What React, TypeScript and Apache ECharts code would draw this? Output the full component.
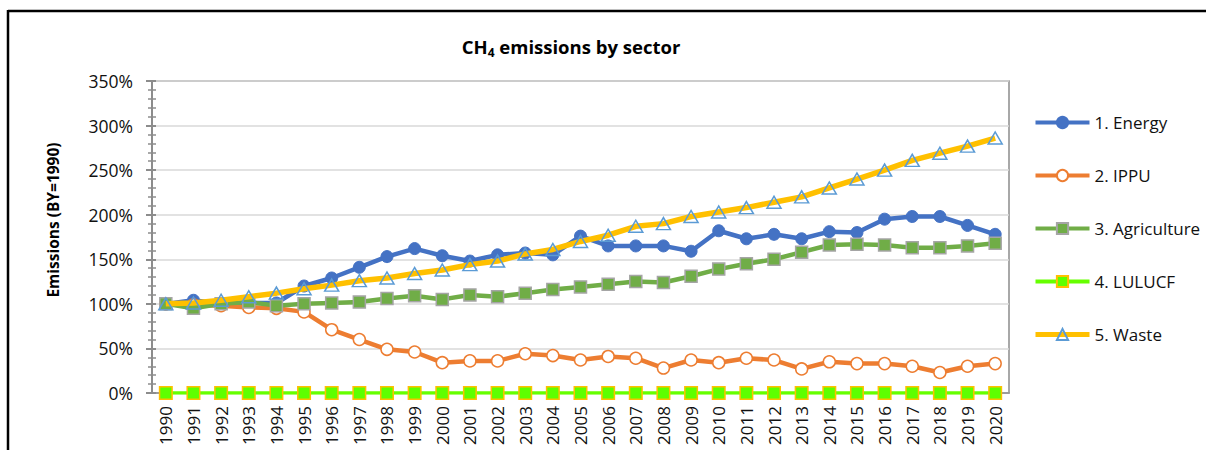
import React, { useEffect, useRef } from "react";
import * as echarts from "echarts";

const years = [
  "1990","1991","1992","1993","1994","1995","1996","1997","1998","1999",
  "2000","2001","2002","2003","2004","2005","2006","2007","2008","2009",
  "2010","2011","2012","2013","2014","2015","2016","2017","2018","2019","2020",
];

const energy = [100,104,100,101,101,120,129,141,153,162,154,148,155,157,155,176,165,165,165,159,182,173,178,173,181,180,195,198,198,188,178];
const ippu = [100,99,98,96,95,91,71,60,49,46,34,36,36,44,42,37,41,39,28,37,34,39,37,27,35,33,33,30,23,30,33];
const agriculture = [100,95,100,102,98,100,101,102,106,109,105,110,108,112,116,119,122,125,124,131,139,145,150,158,166,167,166,163,163,165,168];
const lulucf = [0,0,0,0,0,0,0,0,0,0,0,0,0,0,0,0,0,0,0,0,0,0,0,0,0,0,0,0,0,0,0];
const waste = [100,101,104,108,112,117,121,126,129,134,138,144,148,156,161,170,177,187,190,198,203,208,214,220,230,240,250,261,269,277,286];

const seriesNames = ["1. Energy", "2. IPPU", "3. Agriculture", "4. LULUCF", "5. Waste"];

const FONT = "'Open Sans', 'Liberation Sans', sans-serif";

export default function App() {
  const ref = useRef<HTMLDivElement>(null);

  useEffect(() => {
    if (!ref.current) return;
    const chart = echarts.init(ref.current, undefined, { renderer: "svg" });

    const yCommon = {
      type: "value" as const,
      min: 0,
      max: 350,
      interval: 50,
      position: "left" as const,
    };

    chart.setOption({
      animation: false,
      backgroundColor: "#fff",
      textStyle: { fontFamily: FONT },
      grid: {
        left: 152,
        top: 81,
        right: 197,
        bottom: 57,
        show: true,
        borderColor: "#8c8c8c",
        borderWidth: 1.5,
        backgroundColor: "transparent",
      },
      legend: {
        orient: "vertical",
        left: 1033,
        top: 111,
        padding: 0,
        itemWidth: 54,
        itemHeight: 14,
        itemGap: 30,
        data: [
          { name: seriesNames[0], lineStyle: { width: 4 } },
          { name: seriesNames[1], lineStyle: { width: 4 } },
          { name: seriesNames[2], lineStyle: { width: 4 } },
          { name: seriesNames[3], lineStyle: { width: 4 } },
          { name: seriesNames[4], lineStyle: { width: 5 } },
        ],
        textStyle: { fontFamily: FONT, fontSize: 17, color: "#111", lineHeight: 23 },
      },
      xAxis: {
        type: "category",
        data: years,
        boundaryGap: true,
        axisLine: { show: true, lineStyle: { color: "#8c8c8c", width: 1.5 } },
        axisTick: { show: false },
        axisLabel: {
          rotate: 90,
          margin: 13,
          fontSize: 17,
          fontFamily: FONT,
          color: "#111",
          interval: 0,
        },
        splitLine: { show: false },
      },
      yAxis: [
        {
          ...yCommon,
          axisLine: { show: true, lineStyle: { color: "#8c8c8c", width: 2 } },
          axisTick: { show: true, inside: false, length: 6, lineStyle: { color: "#8c8c8c", width: 2 } },
          minorTick: { show: true, splitNumber: 5, length: 4, lineStyle: { color: "#8c8c8c", width: 1.5 } },
          axisLabel: {
            formatter: "{value}%",
            margin: 19,
            fontSize: 17.5,
            fontFamily: FONT,
            color: "#111",
          },
          splitLine: { show: true, lineStyle: { color: "#d9d9d9", width: 1.5 } },
        },
        {
          ...yCommon,
          axisLine: { show: false },
          axisTick: { show: true, inside: true, length: 4, lineStyle: { color: "#8c8c8c", width: 2 } },
          minorTick: { show: true, splitNumber: 5, length: 4, lineStyle: { color: "#8c8c8c", width: 1.5 } },
          axisLabel: { show: false },
          splitLine: { show: false },
        },
      ],
      series: [
        {
          name: seriesNames[0],
          type: "line",
          data: energy,
          yAxisIndex: 0,
          color: "#4472C4",
          lineStyle: { color: "#4472C4", width: 4.5 },
          symbol: "circle",
          symbolSize: 12,
          itemStyle: { color: "#4472C4", borderColor: "#4472C4", borderWidth: 1 },
          z: 2,
        },
        {
          name: seriesNames[1],
          type: "line",
          data: ippu,
          yAxisIndex: 0,
          color: "#ED7D31",
          lineStyle: { color: "#ED7D31", width: 4.5 },
          symbol: "circle",
          symbolSize: 12,
          itemStyle: { color: "#ffffff", borderColor: "#ED7D31", borderWidth: 1.5 },
          z: 3,
        },
        {
          name: seriesNames[2],
          type: "line",
          data: agriculture,
          yAxisIndex: 0,
          color: "#70AD47",
          lineStyle: { color: "#70AD47", width: 4.5 },
          symbol: "rect",
          symbolSize: 12,
          itemStyle: { color: "#70AD47", borderColor: "#A5A5A5", borderWidth: 1.5 },
          z: 4,
        },
        {
          name: seriesNames[3],
          type: "line",
          data: lulucf,
          yAxisIndex: 0,
          color: "#66FF00",
          lineStyle: { color: "#66FF00", width: 3.5 },
          symbol: "rect",
          symbolSize: 12.5,
          itemStyle: { color: "#5EFF00", borderColor: "#FFC000", borderWidth: 1.5 },
          z: 5,
        },
        {
          name: seriesNames[4],
          type: "line",
          data: waste,
          yAxisIndex: 0,
          color: "#FFC000",
          lineStyle: { color: "#FFC000", width: 5.5 },
          symbol: "triangle",
          symbolSize: [14, 12],
          itemStyle: { color: "transparent", borderColor: "#5B9BD5", borderWidth: 1.5 },
          z: 6,
        },
      ],
      graphic: [
        {
          type: "line",
          shape: { x1: 8, y1: 11, x2: 1206, y2: 11 },
          style: { stroke: "#000", lineWidth: 2.5 },
          silent: true,
        },
        {
          type: "line",
          shape: { x1: 8, y1: 10, x2: 8, y2: 450 },
          style: { stroke: "#000", lineWidth: 2.5 },
          silent: true,
        },
        {
          type: "text",
          x: 571,
          y: 46,
          style: {
            text: "{a|CH}{b|4}{a| emissions by sector}",
            align: "center",
            verticalAlign: "middle",
            rich: {
              a: { fontFamily: FONT, fontSize: 18.5, fontWeight: "bold", fill: "#000", lineHeight: 24, verticalAlign: "middle" },
              b: { fontFamily: FONT, fontSize: 12, fontWeight: "bold", fill: "#000", lineHeight: 12, verticalAlign: "bottom" },
            },
          },
          silent: true,
        },
        {
          type: "text",
          x: 53,
          y: 220,
          rotation: Math.PI / 2,
          style: {
            text: "Emissions (BY=1990)",
            fontFamily: FONT,
            fontSize: 15.5,
            fontWeight: "bold",
            fill: "#000",
            align: "center",
            verticalAlign: "middle",
          },
          silent: true,
        },
      ],
    });

    return () => chart.dispose();
  }, []);

  return (
    <div
      ref={ref}
      style={{ position: "absolute", left: 0, top: 0, width: 1206, height: 450 }}
    />
  );
}
